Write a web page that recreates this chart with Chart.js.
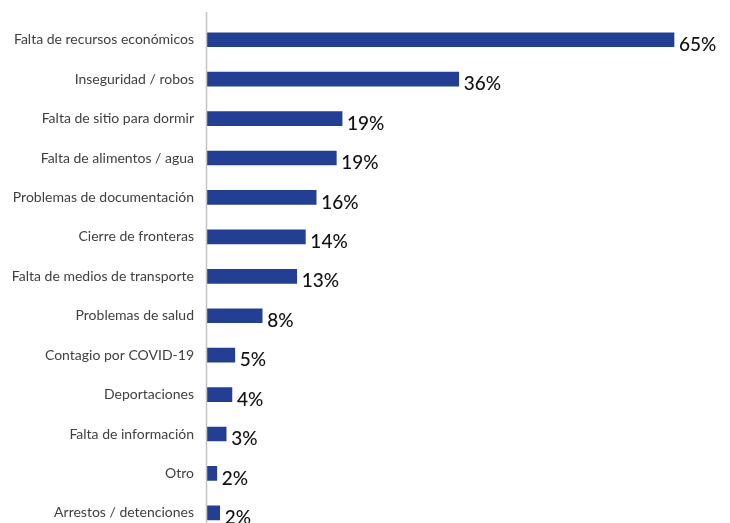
<!DOCTYPE html>
<html>
<head>
<meta charset="utf-8">
<script src="https://cdn.jsdelivr.net/npm/chart.js@4"></script>
<style>
    html, body { margin: 0; padding: 0; background: #fff; overflow: hidden; }
    #wrap { position: relative; width: 730px; height: 545px; }
</style>
</head>
<body>
<div id="wrap"><canvas id="chart"></canvas></div>
<script>
const categories = [
    "Falta de recursos económicos",
    "Inseguridad / robos",
    "Falta de sitio para dormir",
    "Falta de alimentos / agua",
    "Problemas de documentación",
    "Cierre de fronteras",
    "Falta de medios de transporte",
    "Problemas de salud",
    "Contagio por COVID-19",
    "Deportaciones",
    "Falta de información",
    "Otro",
    "Arrestos / detenciones",
];
const values = [65, 35.1, 18.9, 18.1, 15.3, 13.8, 12.6, 7.8, 4.0, 3.6, 2.8, 1.5, 1.9];
const valueLabels = ["65%", "36%", "19%", "19%", "16%", "14%", "13%", "8%", "5%", "4%", "3%", "2%", "2%"];

const valueLabelPlugin = {
    id: "valueLabels",
    afterDatasetsDraw: function (chart) {
        const ctx = chart.ctx;
        const meta = chart.getDatasetMeta(0);
        ctx.save();
        ctx.font = "500 19px Lato";
        ctx.fillStyle = "#111";
        ctx.textAlign = "left";
        ctx.textBaseline = "middle";
        meta.data.forEach((bar, i) => {
            ctx.fillText(valueLabels[i], bar.x + 5, bar.y + 5);
        });
        ctx.restore();
    },
};

const axisLinePlugin = {
    id: "axisLine",
    afterDraw: function (chart) {
        const ctx = chart.ctx;
        const x = chart.chartArea.left + 0.5;
        ctx.save();
        ctx.strokeStyle = "#c4c4c4";
        ctx.lineWidth = 1.5;
        ctx.beginPath();
        ctx.moveTo(x, 12);
        ctx.lineTo(x, chart.height);
        ctx.stroke();
        ctx.restore();
    },
};

new Chart(document.getElementById("chart"), {
    type: "bar",
    data: {
        labels: categories,
        datasets: [
            {
                data: values,
                backgroundColor: "#233f94",
                barThickness: 14,
            },
        ],
    },
    options: {
        indexAxis: "y",
        responsive: true,
        maintainAspectRatio: false,
        animation: false,
        layout: { padding: { top: 20, bottom: 0, left: 0, right: 20 } },
        plugins: {
            legend: { display: false },
            tooltip: { enabled: false },
        },
        scales: {
            x: {
                display: false,
                min: 0,
                max: 70,
            },
            y: {
                afterFit: function (axis) {
                    axis.width = 206;
                },
                grid: { display: false },
                border: { display: false },
                ticks: {
                    padding: 4,
                    color: "#404040",
                    font: { family: "Lato", size: 14 },
                },
            },
        },
    },
    plugins: [valueLabelPlugin, axisLinePlugin],
});
</script>
</body>
</html>
